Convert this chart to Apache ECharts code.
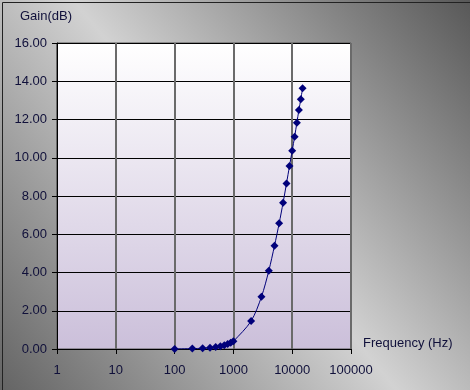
<!DOCTYPE html>
<html><head><meta charset="utf-8">
<script src="https://cdn.jsdelivr.net/npm/echarts@6/dist/echarts.min.js"></script>
<style>html,body{margin:0;padding:0;}#c{width:470px;height:390px;}</style>
</head><body><div id="c"></div>
<script>
const frequencies = [100,200,300,400,500,600,700,800,900,1000,2000,3000,4000,5000,6000,7000,8000,9000,10000,11000,12000,13000,14000,15000];
const gains = [0.00,0.02,0.04,0.07,0.10,0.15,0.20,0.26,0.33,0.40,1.46,2.73,4.09,5.40,6.57,7.65,8.66,9.57,10.37,11.10,11.83,12.50,13.06,13.63];
const yTicks = ['0.00','2.00','4.00','6.00','8.00','10.00','12.00','14.00','16.00'];
const xTicks = ['1','10','100','1000','10000','100000'];

const chart = echarts.init(document.getElementById('c'));
const font = '"Liberation Sans", Arial, sans-serif';
chart.setOption({
  animation: false,
  backgroundColor: {type:'linear', x:1, y:0, x2:0, y2:1, colorStops:[
    {offset:0, color:'#585858'},{offset:0.5, color:'#d2d2d2'},{offset:1, color:'#646464'}]},
  graphic: [
    {type:'rect', left:0, top:0, shape:{width:469, height:389}, style:{fill:'none', stroke:'#222', lineWidth:1}, z:100},
    {type:'text', left:20, top:10, style:{text:'Gain(dB)', font:'13px '+font, fill:'#10103a'}},
    {type:'text', left:363, top:337, style:{text:'Frequency (Hz)', font:'13px '+font, fill:'#10103a'}}
  ],
  grid: {left:57, right:119, top:43, bottom:41, show:true,
    backgroundColor:{type:'linear', x:0, y:0, x2:0, y2:1, colorStops:[{offset:0,color:'#ffffff'},{offset:1,color:'#cbbfda'}]},
    borderColor:'#555', borderWidth:1},
  xAxis: {type:'log', logBase:10, min:1, max:100000,
    axisLine:{show:true, onZero:false, lineStyle:{color:'#000', width:1}},
    axisTick:{show:true, length:5, lineStyle:{color:'#000'}},
    minorTick:{show:false},
    splitLine:{show:true, lineStyle:{color:'#6a6a6a', width:2}},
    axisLabel:{color:'#10103a', fontFamily:font, fontSize:13, margin:15,
      formatter:function(v){ const s=String(Math.round(v)); return xTicks.indexOf(s)>=0?s:''; }}
  },
  yAxis: {type:'value', min:0, max:16, interval:2,
    axisLine:{show:true, lineStyle:{color:'#000', width:1}},
    axisTick:{show:true, length:5, lineStyle:{color:'#000'}},
    splitLine:{show:true, lineStyle:{color:'#000', width:1}},
    axisLabel:{color:'#10103a', fontFamily:font, fontSize:13, margin:10,
      formatter:function(v){ return yTicks[Math.round(v/2)]; }}
  },
  series: [{type:'line', smooth:0.3, data: frequencies.map((f,i)=>[f,gains[i]]),
    symbol:'diamond', symbolSize:8, lineStyle:{color:'#00007a', width:1},
    itemStyle:{color:'#00007a'}}]
});
</script></body></html>
